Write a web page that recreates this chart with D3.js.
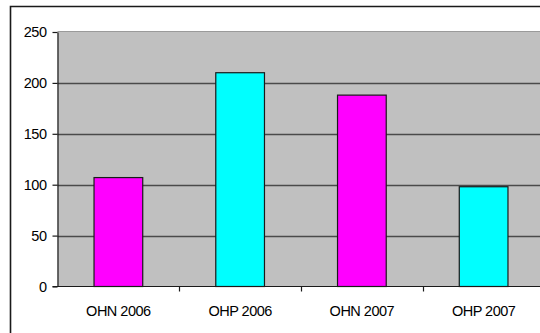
<!DOCTYPE html>
<html>
<head>
<meta charset="utf-8">
<script src="https://cdn.jsdelivr.net/npm/d3@7"></script>
<style>
  html, body { margin: 0; padding: 0; background: #fff; overflow: hidden; }
  svg { display: block; position: absolute; left: 0; top: 0; }
  text { font-family: "Liberation Sans", Arial, sans-serif; fill: #000; }
</style>
</head>
<body>
<script>
// Chart data
const categories = ["OHN 2006", "OHP 2006", "OHN 2007", "OHP 2007"];
const values = [107, 210, 188, 98];
const barColors = ["#FF00FF", "#00FFFF", "#FF00FF", "#00FFFF"];
const yTicks = [0, 50, 100, 150, 200, 250];

const W = 540, H = 333;
const plot = { left: 57.5, right: 544.5, top: 32, bottom: 286.5 };
const visibleRight = W;   // plot area runs past the window edge
const fontSize = 14.5;

const svg = d3.select("body").append("svg")
  .attr("width", W).attr("height", H);

// Chart-area frame: only the top and left edges fall inside the window
svg.append("path")
  .attr("d", `M10.5,${H} L10.5,6.5 L${W},6.5`)
  .attr("fill", "none")
  .attr("stroke", "#1a1a1a").attr("stroke-width", 1.6);

const x = d3.scaleBand()
  .domain(categories)
  .range([plot.left, plot.right])
  .paddingInner(0).paddingOuter(0);

const y = d3.scaleLinear()
  .domain([0, 250])
  .range([plot.bottom, plot.top]);

// Plot background
svg.append("rect")
  .attr("x", plot.left).attr("y", plot.top)
  .attr("width", visibleRight - plot.left)
  .attr("height", plot.bottom - plot.top)
  .attr("fill", "#C0C0C0");

// Top edge of plot area
svg.append("line")
  .attr("x1", plot.left).attr("x2", visibleRight)
  .attr("y1", plot.top - 0.5).attr("y2", plot.top - 0.5)
  .attr("stroke", "#9a9a9a").attr("stroke-width", 1);

// Horizontal gridlines
svg.append("g")
  .selectAll("line")
  .data(yTicks.filter(t => t > 0 && t < 250))
  .join("line")
  .attr("x1", plot.left).attr("x2", visibleRight)
  .attr("y1", d => Math.round(y(d)) + 0.5)
  .attr("y2", d => Math.round(y(d)) + 0.5)
  .attr("stroke", "#4a4a4a").attr("stroke-width", 1.3);

// Bars: width = band / (1 + gap 150%)
const barW = x.bandwidth() / 2.5;
svg.append("g")
  .selectAll("rect")
  .data(categories.map((c, i) => ({ c, v: values[i], color: barColors[i] })))
  .join("rect")
  .attr("x", d => x(d.c) + (x.bandwidth() - barW) / 2)
  .attr("y", d => y(d.v))
  .attr("width", barW)
  .attr("height", d => y(0) - y(d.v))
  .attr("fill", d => d.color)
  .attr("stroke", "#1a1a1a").attr("stroke-width", 1.2);

// Y axis
const yAxis = d3.axisLeft(y)
  .tickValues(yTicks)
  .tickSize(5)
  .tickSizeOuter(0)
  .tickPadding(6)
  .tickFormat(d3.format("d"));
const gy = svg.append("g")
  .attr("transform", `translate(${plot.left},0)`)
  .call(yAxis);
gy.select(".domain").attr("stroke", "#1a1a1a").attr("stroke-width", 1.2);
gy.selectAll(".tick line").attr("stroke", "#1a1a1a").attr("stroke-width", 1.2);
gy.selectAll(".tick text")
  .attr("font-size", fontSize)
  .attr("font-family", "Liberation Sans, Arial, sans-serif")
  .attr("fill", "#000")
  .attr("letter-spacing", -0.5);

// X axis: ticks at band boundaries
const gx = svg.append("g")
  .attr("transform", `translate(0,${plot.bottom})`);
gx.append("line")
  .attr("x1", plot.left - 5).attr("x2", visibleRight)
  .attr("y1", 0).attr("y2", 0)
  .attr("stroke", "#1a1a1a").attr("stroke-width", 1.2);
gx.selectAll("line.tk")
  .data(categories.slice(1))
  .join("line")
  .attr("class", "tk")
  .attr("x1", d => Math.round(x(d)) + 0.5).attr("x2", d => Math.round(x(d)) + 0.5)
  .attr("y1", 0).attr("y2", 5)
  .attr("stroke", "#1a1a1a").attr("stroke-width", 1.2);
gx.selectAll("text")
  .data(categories)
  .join("text")
  .attr("x", d => x(d) + x.bandwidth() / 2)
  .attr("y", 29.5)
  .attr("text-anchor", "middle")
  .attr("font-size", fontSize)
  .attr("letter-spacing", -0.5)
  .text(d => d);
</script>
</body>
</html>
